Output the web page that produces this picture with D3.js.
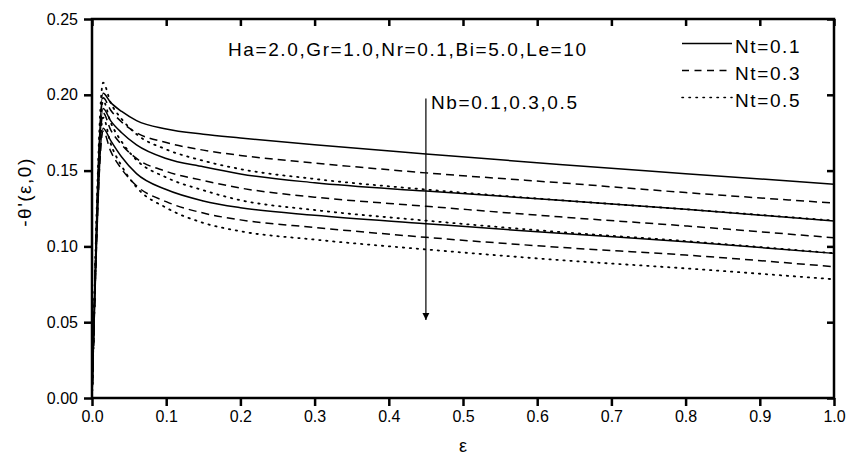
<!DOCTYPE html>
<html>
<head>
<meta charset="utf-8">
<script src="https://cdn.jsdelivr.net/npm/d3@7"></script>
<style>
  body { margin: 0; background: #fff; }
  text { font-family: "Liberation Sans", Arial, sans-serif; fill: #000; }
</style>
</head>
<body>
<svg id="grafico" width="847" height="461"></svg>
<script>
// data
var eps = [0, 0.015, 0.025, 0.04, 0.06, 0.1, 0.15, 0.2, 0.3, 0.45, 0.63, 0.8, 1.0];

var nb1_nt1 = [0, 0.201, 0.195, 0.189, 0.183, 0.1775, 0.174, 0.1715, 0.167, 0.161, 0.154, 0.148, 0.141];
var nb1_nt3 = [0, 0.198, 0.190, 0.182, 0.175, 0.1685, 0.1635, 0.160, 0.155, 0.1485, 0.142, 0.1355, 0.1286];
var nb1_nt5 = [0, 0.208, 0.195, 0.184, 0.174, 0.164, 0.1565, 0.151, 0.1445, 0.1375, 0.1305, 0.1245, 0.117];
var nb3_nt1 = [0, 0.191, 0.183, 0.175, 0.167, 0.158, 0.1525, 0.1478, 0.142, 0.1365, 0.1305, 0.1245, 0.1168];
var nb3_nt3 = [0, 0.188, 0.177, 0.167, 0.158, 0.1495, 0.1435, 0.1385, 0.1325, 0.1265, 0.1195, 0.1135, 0.1057];
var nb3_nt5 = [0, 0.196, 0.182, 0.169, 0.157, 0.1455, 0.137, 0.1305, 0.124, 0.117, 0.1095, 0.1035, 0.0955];
var nb5_nt1 = [0, 0.178, 0.170, 0.159, 0.148, 0.1375, 0.130, 0.1255, 0.1205, 0.115, 0.1086, 0.1031, 0.0954];
var nb5_nt3 = [0, 0.176, 0.163, 0.151, 0.140, 0.1295, 0.122, 0.1175, 0.1125, 0.106, 0.0994, 0.0943, 0.0866];
var nb5_nt5 = [0, 0.185, 0.168, 0.153, 0.139, 0.1255, 0.1155, 0.110, 0.1045, 0.098, 0.091, 0.0855, 0.0783];

var seriesNt = ["Nt=0.1", "Nt=0.3", "Nt=0.5"];
var xTicks = [0, 0.1, 0.2, 0.3, 0.4, 0.5, 0.6, 0.7, 0.8, 0.9, 1.0];
var yTicks = [0, 0.05, 0.10, 0.15, 0.20, 0.25];

var curves = [
  {nt: 0, v: nb1_nt1}, {nt: 1, v: nb1_nt3}, {nt: 2, v: nb1_nt5},
  {nt: 0, v: nb3_nt1}, {nt: 1, v: nb3_nt3}, {nt: 2, v: nb3_nt5},
  {nt: 0, v: nb5_nt1}, {nt: 1, v: nb5_nt3}, {nt: 2, v: nb5_nt5}
];
var dash = ["none", "8,5", "1.4,5.6"];

// dimensions
var svg = d3.select("svg#grafico"),
    width = +svg.attr("width"),
    height = +svg.attr("height");
var margin = {left: 92, top: 19, right: 13, bottom: 63};
var w = width - margin.left - margin.right,
    h = height - margin.top - margin.bottom;

var x = d3.scaleLinear().domain([0, 1]).range([margin.left, margin.left + w]);
var y = d3.scaleLinear().domain([0, 0.25]).range([margin.top + h, margin.top]);

var line = d3.line()
    .x(function(d) { return x(d[0]); })
    .y(function(d) { return y(d[1]); })
    .curve(d3.curveMonotoneX);

// curves
svg.append("g").selectAll("path")
  .data(curves)
  .enter().append("path")
    .attr("d", function(c) { return line(eps.map(function(e, i) { return [e, c.v[i]]; })); })
    .attr("fill", "none")
    .attr("stroke", "#000")
    .attr("stroke-width", function(c) { return c.nt == 2 ? 1.8 : 1.5; })
    .attr("stroke-linecap", function(c) { return c.nt == 2 ? "round" : "butt"; })
    .attr("stroke-dasharray", function(c) { return dash[c.nt]; });

// axes
var fmt = d3.format(".1f"), fmtY = d3.format(".2f");
svg.append("g")
    .attr("transform", "translate(0," + (margin.top + h) + ")")
    .call(d3.axisBottom(x).tickValues(xTicks).tickFormat(fmt).tickSize(8).tickPadding(5));
svg.append("g")
    .attr("transform", "translate(0," + margin.top + ")")
    .call(d3.axisBottom(x).tickValues(xTicks).tickFormat("").tickSize(7));
svg.append("g")
    .attr("transform", "translate(" + margin.left + ",0)")
    .call(d3.axisLeft(y).tickValues(yTicks).tickFormat(fmtY).tickSize(8).tickPadding(6));
svg.append("g")
    .attr("transform", "translate(" + (margin.left + w) + ",0)")
    .call(d3.axisLeft(y).tickValues(yTicks).tickFormat("").tickSize(7));

svg.selectAll(".domain").attr("stroke", "none");
svg.selectAll(".tick line").attr("stroke", "#000").attr("stroke-width", 2.5);
svg.selectAll(".tick text").style("font-size", "16px").style("font-family", "Liberation Sans, Arial, sans-serif");

svg.append("rect")
    .attr("x", margin.left).attr("y", margin.top)
    .attr("width", w).attr("height", h)
    .attr("fill", "none").attr("stroke", "#000").attr("stroke-width", 2.5);

// axis titles
svg.append("text")
    .attr("transform", "translate(31," + 192 + ") rotate(-90)")
    .attr("text-anchor", "middle")
    .style("font-size", "19px").style("letter-spacing", "1.5px")
    .text("-θ'(ε,0)");
svg.append("text")
    .attr("x", x(0.5)).attr("y", 452)
    .attr("text-anchor", "middle")
    .style("font-size", "18px")
    .text("ε");

// annotations
svg.append("text")
    .attr("x", 228).attr("y", 56)
    .style("font-size", "19px").style("letter-spacing", "1.6px")
    .text("Ha=2.0,Gr=1.0,Nr=0.1,Bi=5.0,Le=10");

svg.append("defs").append("marker")
    .attr("id", "arrow")
    .attr("viewBox", "0 0 10 10")
    .attr("refX", 10).attr("refY", 5)
    .attr("markerWidth", 7).attr("markerHeight", 14)
    .attr("markerUnits", "userSpaceOnUse")
    .attr("orient", "auto")
  .append("path")
    .attr("d", "M0,0 L10,5 L0,10 z")
    .attr("fill", "#000");
svg.append("line")
    .attr("x1", x(0.45)).attr("x2", x(0.45))
    .attr("y1", y(0.1975)).attr("y2", y(0.0515))
    .attr("stroke", "#000").attr("stroke-width", 1.2)
    .attr("marker-end", "url(#arrow)");
svg.append("text")
    .attr("x", 431).attr("y", 109)
    .style("font-size", "19px").style("letter-spacing", "1.6px")
    .text("Nb=0.1,0.3,0.5");

// legend
var legend = svg.append("g").selectAll("g")
  .data(seriesNt)
  .enter().append("g")
    .attr("transform", function(d, i) { return "translate(682," + (43.5 + i * 27) + ")"; });
legend.append("line")
    .attr("x1", 0).attr("x2", 50)
    .attr("stroke", "#000")
    .attr("stroke-width", function(d, i) { return i == 2 ? 1.6 : 1.5; })
    .attr("stroke-linecap", function(d, i) { return i == 2 ? "round" : "butt"; })
    .attr("stroke-dasharray", function(d, i) { return i == 1 ? "7,5.5" : dash[i]; });
legend.append("text")
    .attr("x", 53).attr("y", 9)
    .style("font-size", "19px").style("letter-spacing", "1.6px")
    .text(function(d) { return d; });
</script>
</body>
</html>
